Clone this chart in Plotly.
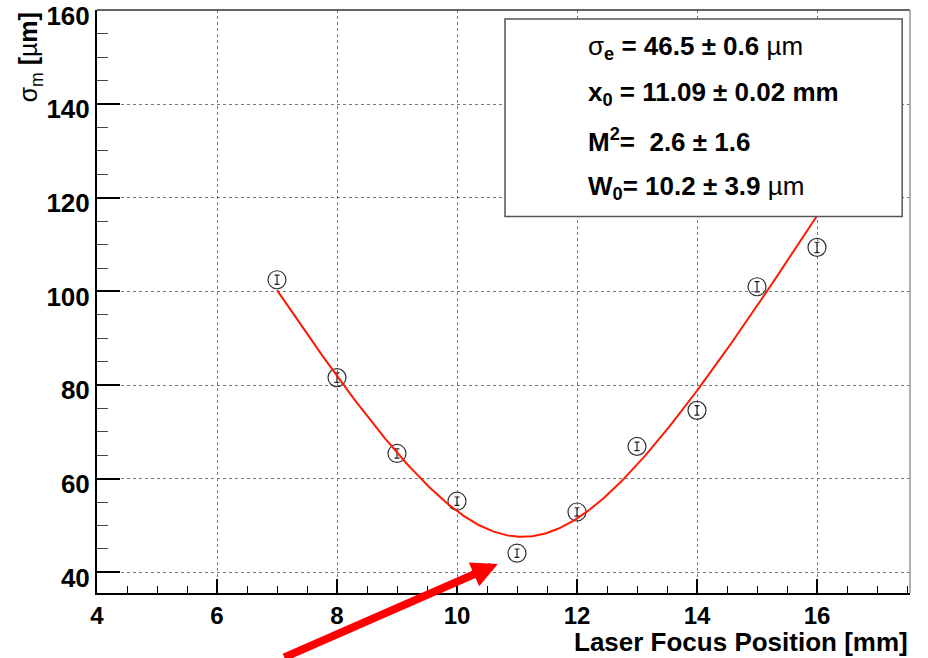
import numpy as np
import plotly.graph_objects as go

# Measured beam size versus laser focus position
focus_mm = [7, 8, 9, 10, 11, 12, 13, 14, 15, 16]
sigma_m = [102.5, 81.6, 65.4, 55.2, 44.1, 52.9, 66.9, 74.6, 101.0, 109.4]
sigma_err = [1.0, 1.0, 1.0, 0.9, 0.9, 0.9, 0.9, 1.0, 1.1, 1.1]

# Fit parameters (shown in the stats box)
sigma_e = 46.5      # um
x0 = 11.09          # mm
m2 = 2.6
w0 = 10.2           # um
wavelength_mm = 266e-6
fit_range = [7.0, 16.0]

x_ticks = [4, 6, 8, 10, 12, 14, 16]
y_ticks = [40, 60, 80, 100, 120, 140, 160]

X_RANGE = [4.0, 17.55]
Y_RANGE = [35.6, 160.1]

FONT = "Liberation Sans, Arial, Helvetica, sans-serif"

# Fit curve: sigma_m = sqrt(sigma_e^2 + w(x)^2), w(x) = W0*sqrt(1+((x-x0)/zR)^2)
z_r = np.pi * (w0 * 1e-3) ** 2 / (m2 * wavelength_mm)
xf = np.linspace(fit_range[0], fit_range[1], 300)
wf = w0 * np.sqrt(1 + ((xf - x0) / z_r) ** 2)
yf = np.sqrt(sigma_e ** 2 + wf ** 2)

fig = go.Figure()

fig.add_trace(go.Scatter(
    x=focus_mm, y=sigma_m, mode="markers",
    marker=dict(symbol="circle-open", size=18, color="#333333",
                line=dict(width=1.2, color="#333333")),
    error_y=dict(type="data", array=sigma_err, visible=True,
                 color="#222222", thickness=1.2, width=2.5),
    showlegend=False,
))

fig.add_trace(go.Scatter(
    x=xf, y=yf, mode="lines",
    line=dict(color="#ff1a00", width=2),
    showlegend=False,
))

# Stats box
fig.add_shape(type="rect", xref="x", yref="y",
              x0=10.8, x1=17.42, y0=116.0, y1=158.2,
              fillcolor="white", line=dict(color="#555555", width=1.5),
              layer="above")

stats_lines = [
    ("σ<sub><b>e</b></sub><b> = 46.5 ± 0.6 </b>µm", 152.0),
    ("<b>x<sub>0</sub> = 11.09 ± 0.02 mm</b>", 142.2),
    ("<b>M<sup>2</sup>=  2.6 ± 1.6</b>", 132.2),
    ("<b>W<sub>0</sub>= 10.2 ± 3.9 </b>µm", 122.2),
]
for txt, yy in stats_lines:
    fig.add_annotation(x=12.15, y=yy, xref="x", yref="y", text=txt,
                       showarrow=False, xanchor="left", yanchor="middle",
                       font=dict(family=FONT, size=26, color="black"))

# Axis titles
fig.add_annotation(x=1.0, y=-0.084, xref="paper", yref="paper",
                   text="<b>Laser Focus Position [mm]</b>", showarrow=False,
                   xanchor="right", yanchor="middle",
                   font=dict(family=FONT, size=26, color="black"))
fig.add_annotation(x=-0.082, y=1.0, xref="paper", yref="paper",
                   text="σ<sub>m</sub> <b>[</b>µ<b>m]</b>", showarrow=False,
                   textangle=-90, xanchor="center", yanchor="top",
                   font=dict(family=FONT, size=25, color="black"))

# Red arrow pointing at the minimum
fig.add_annotation(x=10.68, y=41.8, xref="x", yref="y", text="",
                   showarrow=True, ax=-215, ay=100, axref="pixel", ayref="pixel",
                   arrowcolor="#ff0000", arrowwidth=8, arrowhead=2, arrowsize=0.65)

fig.update_xaxes(
    range=X_RANGE, tickvals=x_ticks, ticktext=[f"<b>{v}</b>" for v in x_ticks],
    ticks="inside", ticklen=14, tickwidth=1.5, tickcolor="black",
    minor=dict(dtick=0.5, tick0=4, ticks="inside", ticklen=7, tickcolor="black",
               tickwidth=1, showgrid=False),
    showgrid=True, gridcolor="#777777", griddash="dot", gridwidth=1,
    showline=True, linecolor="black", linewidth=2, mirror=False,
    tickfont=dict(family=FONT, size=24, color="black"),
    ticklabeloverflow="allow", automargin=False,
    zeroline=False,
)
fig.update_yaxes(
    range=Y_RANGE, tickvals=y_ticks, ticktext=[f"<b>{v}</b>" for v in y_ticks],
    ticks="inside", ticklen=23, tickwidth=1.5, tickcolor="black",
    minor=dict(dtick=5, tick0=0, ticks="inside", ticklen=11, tickcolor="#444444",
               tickwidth=1, showgrid=False),
    showgrid=True, gridcolor="#777777", griddash="dot", gridwidth=1,
    showline=True, linecolor="black", linewidth=2, mirror=False,
    tickfont=dict(family=FONT, size=26, color="black"),
    ticklabeloverflow="allow", automargin=False, ticklabelshift=5,
    zeroline=False,
)

# Fine ticks on the y axis and thin frame on top/right
fig.update_layout(
    yaxis2=dict(range=Y_RANGE, overlaying="y", anchor="x", side="left",
                showticklabels=False, showgrid=False, ticks="inside",
                tick0=0, dtick=1, ticklen=4, tickcolor="#777777", tickwidth=1,
                zeroline=False, showline=False, automargin=False),
)
fig.add_shape(type="line", xref="paper", yref="paper", x0=0, x1=1, y0=1, y1=1,
              line=dict(color="#333333", width=1.5))
fig.add_shape(type="line", xref="paper", yref="paper", x0=1, x1=1, y0=0, y1=1,
              line=dict(color="#999999", width=1.5))

fig.update_layout(
    width=928, height=658,
    margin=dict(l=97, r=18, t=10, b=65),
    paper_bgcolor="white", plot_bgcolor="white",
    font=dict(family=FONT, color="black"),
    showlegend=False,
)

fig.write_html("out.html")
